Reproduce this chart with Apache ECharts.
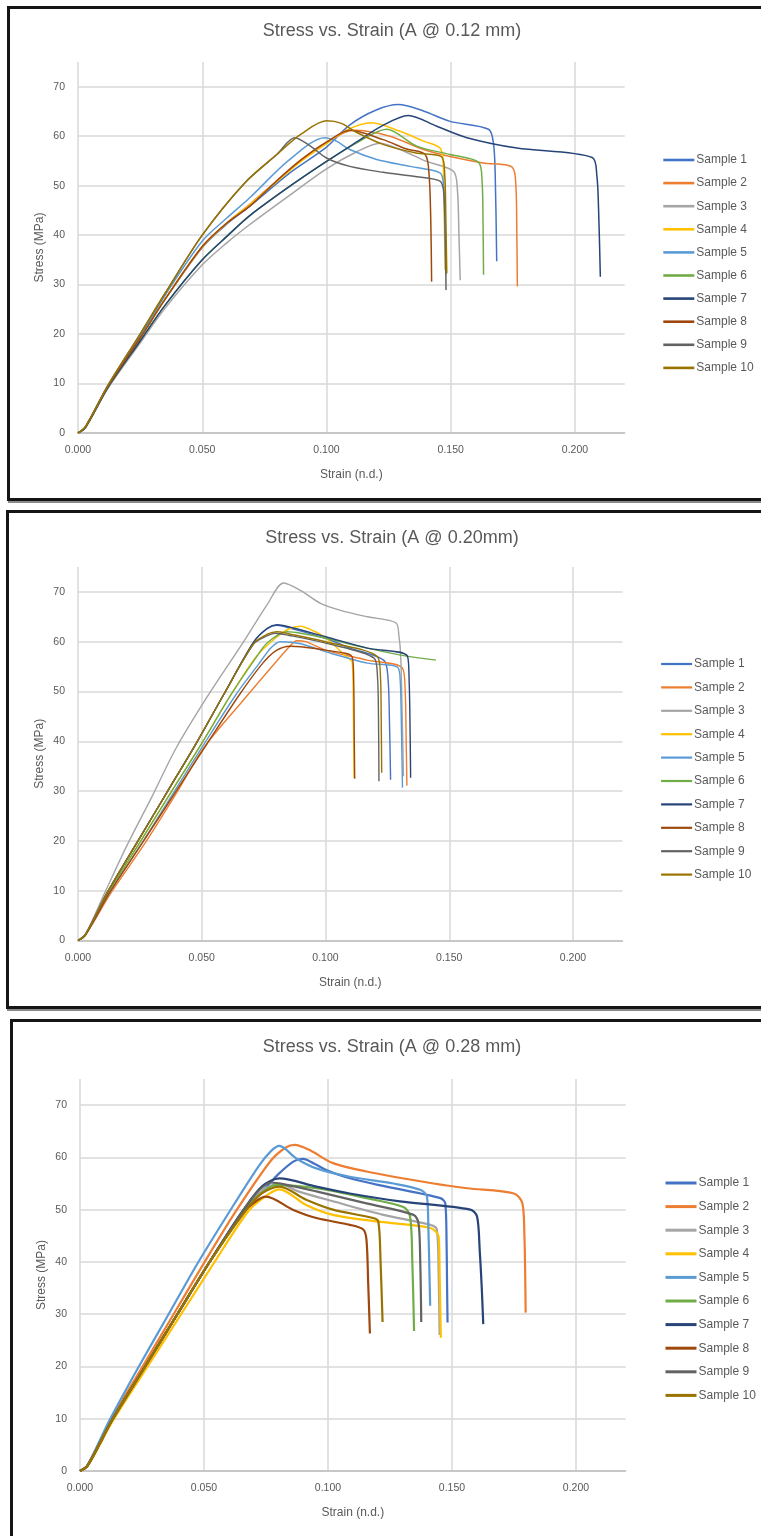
<!DOCTYPE html>
<html>
<head>
<meta charset="utf-8">
<script src="https://cdn.jsdelivr.net/npm/echarts@6/dist/echarts.min.js"></script>
<style>
  html, body { margin: 0; padding: 0; background: #ffffff; }
  #page { position: relative; width: 761px; height: 1536px; overflow: hidden; }
  .frame { position: absolute; box-sizing: border-box; border: 3px solid #151515; background: #ffffff; }
  #chart { position: absolute; left: 0; top: 0; width: 761px; height: 1536px; }
</style>
</head>
<body>
<div id="page">
  <div class="frame" style="left:7px; top:6px; width:820px; height:495px; box-shadow:0 3px 0 -1px #8a8a8a;"></div>
  <div class="frame" style="left:6px; top:510px; width:820px; height:499px; box-shadow:0 3px 0 -1px #8a8a8a;"></div>
  <div class="frame" style="left:10px; top:1019px; width:820px; height:600px;"></div>
  <div id="chart"></div>
</div>
<script>
// Tensile test results for layer heights 0.12 mm, 0.20 mm and 0.28 mm.
// Each curve is a list of [strain (n.d.), stress (MPa)] readings.

const SAMPLE_NAMES = ['Sample 1', 'Sample 2', 'Sample 3', 'Sample 4', 'Sample 5',
                      'Sample 6', 'Sample 7', 'Sample 8', 'Sample 9', 'Sample 10'];

const SAMPLE_COLORS = ['#4472C4', '#ED7D31', '#A5A5A5', '#FFC000', '#5B9BD5',
                       '#70AD47', '#264478', '#9E480E', '#636363', '#997300'];

const CHART_TITLES = ['Stress vs. Strain (A @ 0.12 mm)',
                      'Stress vs. Strain (A @ 0.20mm)',
                      'Stress vs. Strain (A @ 0.28 mm)'];

const STRAIN_AXIS = { name: 'Strain (n.d.)', min: 0, max: 0.22, step: 0.05 };
const STRESS_AXIS = { name: 'Stress (MPa)', min: 0, max: 75, step: 10 };

// ---- 0.12 mm layer height ----
const CURVES_012 = [
  // Sample 1
  [[0,0],[0.003,1.2],[0.012,9.4],[0.025,19.2],[0.035,27],[0.05,37.5],[0.06,42.3],[0.069,45.8],[0.085,52.5],[0.1,57.8],[0.1094,62.3],[0.12,65.3],[0.1289,66.4],[0.139,65.1],[0.1497,63.0],[0.1652,61.4],[0.1672,58.5],[0.1679,52],[0.1685,34.7]],
  // Sample 2
  [[0,0],[0.003,1.2],[0.012,9.4],[0.025,19.2],[0.035,27],[0.05,37.7],[0.06,42.5],[0.069,46.2],[0.08,51],[0.09,55.3],[0.1,58.8],[0.111,61.2],[0.1255,60],[0.139,57.3],[0.1497,55.9],[0.163,54.6],[0.1746,53.8],[0.1762,50],[0.1766,40],[0.1768,29.6]],
  // Sample 3
  [[0,0],[0.003,1.1],[0.012,9],[0.025,18.2],[0.035,25.2],[0.05,34],[0.06,38.5],[0.069,42.1],[0.085,48],[0.1,53.4],[0.112,56.8],[0.1215,58.6],[0.1296,57.3],[0.1403,54.9],[0.1511,52.9],[0.1527,49],[0.1533,40],[0.1538,30.9]],
  // Sample 4
  [[0,0],[0.003,1.2],[0.012,9.4],[0.025,19.2],[0.035,27],[0.05,37.6],[0.06,42.5],[0.069,46.1],[0.08,50.8],[0.09,55],[0.1,58.5],[0.108,61.2],[0.1181,62.7],[0.1296,61],[0.139,59],[0.1457,57.6],[0.147,54],[0.1474,44],[0.1477,33]],
  // Sample 5
  [[0,0],[0.003,1.2],[0.012,9.5],[0.025,19.5],[0.035,27.8],[0.05,38.8],[0.06,43.5],[0.069,47.5],[0.085,55.2],[0.0993,59.7],[0.104,59],[0.1094,57.3],[0.1202,55.3],[0.1336,53.9],[0.1457,52.6],[0.147,50.5],[0.1476,42],[0.148,32]],
  // Sample 6
  [[0,0],[0.003,1.1],[0.012,9.2],[0.025,18.6],[0.035,25.8],[0.05,35],[0.06,39.8],[0.069,43.9],[0.085,49.8],[0.1,54.9],[0.112,58.6],[0.1242,61.4],[0.1363,58],[0.1497,56.3],[0.1612,54.7],[0.1626,51],[0.163,42],[0.1632,32]],
  // Sample 7
  [[0,0],[0.003,1.1],[0.012,9.2],[0.025,18.6],[0.035,25.8],[0.05,35],[0.06,39.8],[0.069,43.9],[0.085,49.8],[0.1,54.9],[0.112,58.8],[0.122,62],[0.1329,64.2],[0.1444,62.0],[0.1565,59.7],[0.1766,57.6],[0.2069,55.7],[0.2088,52],[0.2095,45],[0.2102,31.6]],
  // Sample 8
  [[0,0],[0.003,1.2],[0.012,9.4],[0.025,19.2],[0.035,27],[0.05,37.7],[0.06,42.5],[0.069,45.8],[0.08,51],[0.09,55.3],[0.1,58.8],[0.1094,61.2],[0.1228,59.3],[0.1323,57.4],[0.1397,56.3],[0.1413,52],[0.142,42],[0.1423,30.6]],
  // Sample 9
  [[0,0],[0.003,1.3],[0.012,9.6],[0.025,20],[0.035,28.2],[0.05,40],[0.067,50.5],[0.08,56.3],[0.0872,59.7],[0.093,58.2],[0.1,55.6],[0.1094,53.9],[0.1228,52.7],[0.1363,51.8],[0.1457,50.9],[0.1472,48.5],[0.1478,40],[0.1481,28.9]],
  // Sample 10
  [[0,0],[0.003,1.3],[0.012,9.6],[0.025,20],[0.035,28.2],[0.05,40],[0.067,50.5],[0.08,56.3],[0.09,60.5],[0.1,63.1],[0.106,62.6],[0.112,60.8],[0.123,58.3],[0.136,56.6],[0.1464,55.8],[0.1476,52],[0.148,44],[0.1484,32.3]]
];

// ---- 0.20 mm layer height ----
const CURVES_020 = [
  // Sample 1
  [[0,0],[0.003,1.2],[0.012,9.8],[0.024,19.8],[0.036,29.8],[0.048,39.8],[0.059,49.5],[0.0711,60],[0.0765,62.6],[0.0804,63.3],[0.085,62.8],[0.1,60.7],[0.11,58.7],[0.1235,56.3],[0.1252,53],[0.1258,45],[0.1263,32.3]],
  // Sample 2
  [[0,0],[0.003,1.1],[0.0135,9.7],[0.027,19.5],[0.04,29.8],[0.051,38.8],[0.066,47.8],[0.0859,59.3],[0.0885,60.2],[0.092,60],[0.1,58.3],[0.1169,56.3],[0.1311,54.7],[0.1322,50],[0.1326,40],[0.1329,31.1]],
  // Sample 3
  [[0,0],[0.003,1.3],[0.011,9.8],[0.02,19.3],[0.03,29],[0.0396,38.6],[0.0523,49],[0.0664,59.6],[0.0765,67.5],[0.0831,71.8],[0.0899,70.3],[0.098,67.7],[0.1061,66.3],[0.1169,65],[0.1284,63.8],[0.1297,61],[0.1304,57],[0.131,45],[0.1315,33]],
  // Sample 4
  [[0,0],[0.003,1.1],[0.0125,9.8],[0.025,19.7],[0.0375,29.7],[0.05,39.6],[0.062,49.5],[0.072,57],[0.0797,60.7],[0.085,62.5],[0.0899,63.1],[0.095,62.2],[0.1,60.8],[0.108,57.2],[0.1108,55.8],[0.1112,48],[0.1115,32.7]],
  // Sample 5
  [[0,0],[0.003,1.1],[0.013,9.8],[0.026,19.7],[0.0385,29.6],[0.051,39.5],[0.064,49.5],[0.073,55.5],[0.078,58.8],[0.0818,60],[0.09,59.6],[0.1,58],[0.1169,55.7],[0.1291,54.9],[0.1302,52],[0.1307,42],[0.1311,30.7]],
  // Sample 6
  [[0,0],[0.003,1.1],[0.0125,9.8],[0.025,19.7],[0.0375,29.7],[0.05,39.6],[0.062,49.5],[0.0715,56.5],[0.0765,59.8],[0.0845,62],[0.09,61.7],[0.1,60.7],[0.1169,58.7],[0.1304,57.3],[0.1446,56.3]],
  // Sample 7
  [[0,0],[0.003,1.2],[0.012,9.8],[0.024,19.8],[0.036,29.8],[0.048,39.8],[0.059,49.5],[0.0711,60],[0.0765,62.7],[0.0804,63.4],[0.085,63],[0.1,61],[0.1169,58.7],[0.1331,57.1],[0.1338,52],[0.1341,45],[0.1344,32.7]],
  // Sample 8
  [[0,0],[0.003,1.1],[0.013,9.8],[0.026,19.6],[0.039,29.5],[0.052,39.4],[0.065,49.2],[0.074,55.3],[0.08,58.2],[0.0858,59.1],[0.09,59],[0.1,58.3],[0.1108,56.9],[0.1114,52],[0.1116,42],[0.1118,32.5]],
  // Sample 9
  [[0,0],[0.003,1.2],[0.012,9.8],[0.024,19.8],[0.036,29.8],[0.048,39.8],[0.059,49.5],[0.0711,59.6],[0.0765,61.2],[0.0797,61.7],[0.085,61.3],[0.1,59.7],[0.1196,56.7],[0.121,53],[0.1214,45],[0.1216,32]],
  // Sample 10
  [[0,0],[0.003,1.2],[0.012,9.8],[0.024,19.8],[0.036,29.8],[0.048,39.8],[0.059,49.5],[0.0711,59.7],[0.0765,61.5],[0.0804,62],[0.085,61.6],[0.1,60],[0.121,57],[0.1222,53],[0.1225,45],[0.1227,33.7]]
];

// ---- 0.28 mm layer height ----
const CURVES_028 = [
  // Sample 1
  [[0,0],[0.003,1.0],[0.013,9.8],[0.026,19.8],[0.039,29.8],[0.052,39.8],[0.066,50],[0.0745,54],[0.08,56.8],[0.086,59.2],[0.0899,59.7],[0.0945,58.8],[0.0993,57.6],[0.1088,56],[0.1236,54.4],[0.1453,52.2],[0.1473,51.2],[0.1478,44],[0.148,36],[0.1482,28.4]],
  // Sample 2
  [[0,0],[0.003,1.1],[0.0125,9.8],[0.025,19.8],[0.0375,29.8],[0.05,39.8],[0.063,49.8],[0.077,59.4],[0.083,61.9],[0.0866,62.4],[0.0926,61.4],[0.102,58.9],[0.1155,57.3],[0.1426,55],[0.1561,54.1],[0.175,53.1],[0.1784,51.2],[0.1792,45],[0.1795,38],[0.1797,30.3]],
  // Sample 3
  [[0,0],[0.003,1.0],[0.013,9.8],[0.026,19.8],[0.039,29.8],[0.052,39.8],[0.066,49.5],[0.074,53.8],[0.0804,55],[0.088,53.5],[0.102,51.6],[0.1223,49],[0.1412,47.1],[0.1439,46.2],[0.1446,38],[0.145,26]],
  // Sample 4
  [[0,0],[0.003,0.9],[0.0135,9.8],[0.027,19.8],[0.0405,29.8],[0.054,39.8],[0.068,49.8],[0.0755,52.8],[0.0804,53.9],[0.0912,50.9],[0.102,49],[0.1223,47.6],[0.1412,46.5],[0.1446,44.9],[0.145,38],[0.1455,25.5]],
  // Sample 5
  [[0,0],[0.003,1.1],[0.012,9.8],[0.0235,19.8],[0.0355,29.8],[0.0475,39.8],[0.0605,49.8],[0.072,58.3],[0.077,61.2],[0.0804,62.2],[0.0872,59.8],[0.0953,57.9],[0.1088,56.3],[0.1264,55],[0.1372,53.8],[0.1399,52.5],[0.1405,46],[0.1409,38],[0.1412,31.6]],
  // Sample 6
  [[0,0],[0.003,1.0],[0.013,9.8],[0.026,19.8],[0.039,29.8],[0.052,39.8],[0.066,49.5],[0.0735,53.3],[0.079,54.7],[0.0953,54.1],[0.1155,52.2],[0.1304,50.5],[0.1331,48.7],[0.134,40],[0.1347,26.8]],
  // Sample 7
  [[0,0],[0.003,1.0],[0.013,9.8],[0.026,19.8],[0.039,29.8],[0.052,39.8],[0.066,50],[0.0735,54.5],[0.0804,56],[0.0953,54.4],[0.1088,53.1],[0.129,51.6],[0.1574,50],[0.1601,48.7],[0.1612,42],[0.162,35],[0.1626,28.1]],
  // Sample 8
  [[0,0],[0.003,1.0],[0.013,9.8],[0.026,19.8],[0.039,29.8],[0.052,39.8],[0.066,49.5],[0.0715,51.8],[0.075,52.5],[0.0858,50],[0.0953,48.4],[0.1088,47.1],[0.1142,46.2],[0.1155,44.3],[0.1162,36],[0.1169,26.3]],
  // Sample 9
  [[0,0],[0.003,1.0],[0.013,9.8],[0.026,19.8],[0.039,29.8],[0.052,39.8],[0.066,50],[0.072,53.6],[0.077,55.2],[0.082,54.9],[0.0953,53.5],[0.1155,51.2],[0.1345,49],[0.1365,47.4],[0.1372,40],[0.1376,28.5]],
  // Sample 10
  [[0,0],[0.003,1.0],[0.013,9.8],[0.026,19.8],[0.039,29.8],[0.052,39.8],[0.066,49.3],[0.073,53],[0.0804,54.4],[0.0912,51.9],[0.102,50],[0.1182,48.4],[0.1203,47.7],[0.1212,40],[0.122,28.5]]
];

const PANEL_CURVES = [CURVES_012, CURVES_020, CURVES_028];

// Page layout for the three stacked panels.
const PANELS = [
  { grid: { left: 78, top: 62, width: 546.7, height: 371 },  titleY: 22,   legendX: 662, legendY: 154,  legendStep: 25.1, legendFont: 12, lineWidth: 1.5, legendLine: 2.6 },
  { grid: { left: 78, top: 567, width: 544.5, height: 373.5 }, titleY: 529, legendX: 660, legendY: 658, legendStep: 25.4, legendFont: 12, lineWidth: 1.4, legendLine: 2.2 },
  { grid: { left: 80, top: 1079, width: 545.6, height: 392 },  titleY: 1038, legendX: 664, legendY: 1177, legendStep: 25.6, legendFont: 12, lineWidth: 2.2, legendLine: 3 }
];

const TEXT_COLOR = '#595959';
const FONT = "'Liberation Sans', Arial, sans-serif";
const CLEAR = 'rgba(0,0,0,0)';

const chart = echarts.init(document.getElementById('chart'), null, { renderer: 'canvas' });

const option = {
  animation: false,
  backgroundColor: 'transparent',
  title: [], grid: [], xAxis: [], yAxis: [], legend: [], series: []
};

PANELS.forEach((p, i) => {
  option.title.push({
    text: CHART_TITLES[i], left: 392, top: p.titleY, textAlign: 'center', padding: 0,
    textStyle: { color: TEXT_COLOR, fontSize: 18, fontWeight: 'normal', fontFamily: FONT }
  });
  option.grid.push(Object.assign({ containLabel: false }, p.grid));
  option.xAxis.push({
    gridIndex: i, type: 'value',
    min: STRAIN_AXIS.min, max: STRAIN_AXIS.max, interval: STRAIN_AXIS.step,
    name: STRAIN_AXIS.name, nameLocation: 'middle', nameGap: 36,
    nameTextStyle: { color: TEXT_COLOR, fontSize: 12, fontFamily: FONT },
    axisLine: { show: true, lineStyle: { color: '#BFBFBF', width: 1.5 } },
    axisTick: { show: false },
    axisLabel: { color: TEXT_COLOR, fontSize: 10.5, fontFamily: FONT, margin: 12,
                 showMaxLabel: false, formatter: v => v.toFixed(3) },
    splitLine: { show: true, showMaxLine: false, lineStyle: { color: '#D9D9D9', width: 1.5 } }
  });
  option.yAxis.push({
    gridIndex: i, type: 'value',
    min: STRESS_AXIS.min, max: STRESS_AXIS.max, interval: STRESS_AXIS.step,
    name: STRESS_AXIS.name, nameLocation: 'middle', nameGap: 32, nameMoveOverlap: false,
    nameTextStyle: { color: TEXT_COLOR, fontSize: 12, fontFamily: FONT },
    axisLine: { show: false }, axisTick: { show: false },
    axisLabel: { color: TEXT_COLOR, fontSize: 10.5, fontFamily: FONT, margin: 13, showMaxLabel: false },
    splitLine: { show: true, showMaxLine: false, lineStyle: { color: '#D9D9D9', width: 1.5 } }
  });
  option.legend.push({
    orient: 'vertical', left: p.legendX, top: p.legendY, padding: 0,
    itemWidth: 31, itemHeight: 14, itemGap: p.legendStep - 14,
    selectedMode: false,
    data: SAMPLE_NAMES.slice(),
    itemStyle: { color: CLEAR, borderColor: CLEAR, borderWidth: 0 },
    lineStyle: { width: p.legendLine },
    textStyle: { color: TEXT_COLOR, fontSize: p.legendFont, fontFamily: FONT, padding: [0, 0, 0, -3] }
  });
  PANEL_CURVES[i].forEach((points, k) => {
    option.series.push({
      type: 'line', name: SAMPLE_NAMES[k], xAxisIndex: i, yAxisIndex: i,
      data: points, symbol: 'none', showSymbol: false,
      smooth: 0.3,
      color: SAMPLE_COLORS[k],
      lineStyle: { color: SAMPLE_COLORS[k], width: p.lineWidth },
      emphasis: { disabled: true }
    });
  });
});

chart.setOption(option);
</script>
</body>
</html>
